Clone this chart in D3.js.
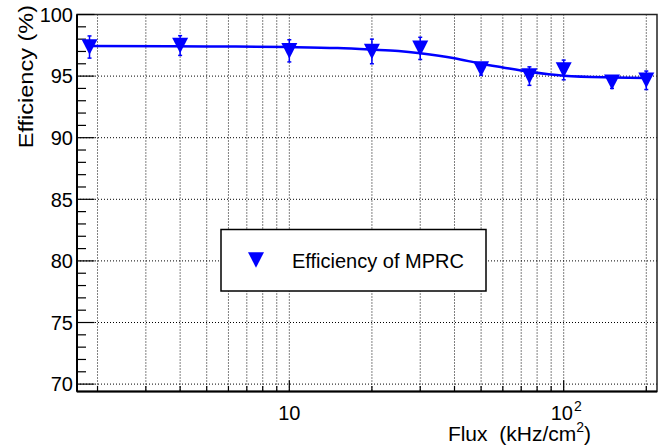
<!DOCTYPE html>
<html>
<head>
<meta charset="utf-8">
<script src="https://cdn.jsdelivr.net/npm/d3@7"></script>
<style>
  html, body { margin: 0; padding: 0; background: #fff; }
  svg { display: block; font-family: "Liberation Sans", Arial, Helvetica, sans-serif; }
  text { white-space: pre; }
</style>
</head>
<body>
<svg id="chart" width="671" height="445"></svg>
<script>
// ---- data ----
const flux = [1.87, 4, 10, 20, 30, 50, 75, 100, 150, 200];
const efficiency = [97.36, 97.48, 97.05, 97.0, 97.25, 95.58, 95.0, 95.5, 94.5, 94.66];
const errors = [0.9, 0.8, 0.9, 1.0, 0.9, 0.5, 0.75, 0.8, 0.5, 0.75];
const fitFlux = [1.87, 5, 10, 15, 20, 25, 30, 40, 50, 60, 75, 100, 150, 200];
const fitEff = [97.44, 97.41, 97.36, 97.28, 97.15, 97.03, 96.85, 96.45, 96.0, 95.7, 95.35, 95.03, 94.89, 94.85];
const yTicks = [70, 75, 80, 85, 90, 95, 100];
const xLabelTicks = [10, 100];
const legendLabel = "Efficiency of MPRC";

// ---- layout ----
const W = 671, H = 445;
const L = 77, R = 657, T = 14.5, B = 391.5;
const svg = d3.select("#chart");
svg.append("rect").attr("width", W).attr("height", H).attr("fill", "#fff");

const x = d3.scaleLog().domain([1.6835, 218.8]).range([L, R]);
const y = d3.scaleLinear().domain([69.4, 100]).range([B, T]);

// grid
const grid = svg.append("g").attr("stroke", "#000").attr("stroke-width", 1).attr("stroke-dasharray", "1,2");
x.ticks().filter(v => v > 1.6835 && v < 218.8).forEach(v => {
  grid.append("line").attr("x1", x(v)).attr("x2", x(v)).attr("y1", T).attr("y2", B);
});
yTicks.forEach(v => {
  grid.append("line").attr("x1", L).attr("x2", R).attr("y1", y(v)).attr("y2", y(v));
});

// frame
svg.append("rect").attr("x", L).attr("y", T).attr("width", R - L).attr("height", B - T)
  .attr("fill", "none").attr("stroke", "#222").attr("stroke-width", 1.5);

// y axis ticks
const ax = svg.append("g").attr("stroke", "#000").attr("stroke-width", 1.2);
d3.range(70, 100.01, 1).forEach(v => {
  const len = (v % 5 === 0) ? 17.5 : 9;
  ax.append("line").attr("x1", L).attr("x2", L + len).attr("y1", y(v)).attr("y2", y(v));
});
// x axis ticks
x.ticks().filter(v => v > 1.6835 && v < 218.8).forEach(v => {
  const major = Math.abs(Math.log10(v) - Math.round(Math.log10(v))) < 1e-9;
  const len = major ? 11.3 : 5.6;
  ax.append("line").attr("x1", x(v)).attr("x2", x(v)).attr("y1", B).attr("y2", B - len);
});
svg.append("line").attr("x1", L).attr("x2", L).attr("y1", T).attr("y2", B).attr("stroke", "#000").attr("stroke-width", 2);
svg.append("line").attr("x1", L).attr("x2", R).attr("y1", B).attr("y2", B).attr("stroke", "#000").attr("stroke-width", 2);

// y tick labels
yTicks.forEach(v => {
  svg.append("text").attr("x", 73).attr("y", y(v)).attr("dy", "0.36em")
    .attr("text-anchor", "end").attr("font-size", 20).text(v);
});
// x tick labels
xLabelTicks.forEach(v => {
  const e = Math.round(Math.log10(v));
  if (e === 1) {
    svg.append("text").attr("x", x(v)).attr("y", 420).attr("text-anchor", "middle")
      .attr("font-size", 20).text("10");
  } else {
    const t = svg.append("text").attr("x", x(v) + 2.5).attr("y", 420).attr("text-anchor", "middle").attr("font-size", 20);
    t.append("tspan").text("10");
    t.append("tspan").attr("font-size", 14).attr("dy", -9).attr("dx", 1).text(e);
  }
});

// axis titles
const xt = svg.append("text").attr("x", 591).attr("y", 441).attr("text-anchor", "end").attr("font-size", 21);
xt.append("tspan").text("Flux  (kHz/cm");
xt.append("tspan").attr("font-size", 14).attr("dy", -9).text("2");
xt.append("tspan").attr("dy", 9).text(")");

svg.append("text").attr("transform", "translate(33,5) rotate(-90) scale(1.12,1)")
  .attr("text-anchor", "end").attr("font-size", 21).text("Efficiency (%)");

// fit curve
const blue = "#0000ff";
const line = d3.line().x(d => x(d[0])).y(d => y(d[1])).curve(d3.curveMonotoneX);
svg.append("path").datum(fitFlux.map((f, i) => [f, fitEff[i]]))
  .attr("d", line).attr("fill", "none").attr("stroke", blue).attr("stroke-width", 2.5);

// error bars
const eb = svg.append("g").attr("stroke", blue).attr("stroke-width", 1.5);
flux.forEach((f, i) => {
  const cx = x(f), y1 = y(efficiency[i] + errors[i]), y2 = y(efficiency[i] - errors[i]);
  eb.append("line").attr("x1", cx).attr("x2", cx).attr("y1", y1).attr("y2", y2);
  eb.append("line").attr("x1", cx - 2).attr("x2", cx + 2).attr("y1", y1).attr("y2", y1);
  eb.append("line").attr("x1", cx - 2).attr("x2", cx + 2).attr("y1", y2).attr("y2", y2);
});

// markers (downward triangle)
function tri(cx, cy) {
  const w = 8, h = 7.8;
  return `M${cx - w},${cy - h}L${cx + w},${cy - h}L${cx},${cy + h}Z`;
}
flux.forEach((f, i) => {
  svg.append("path").attr("d", tri(x(f), y(efficiency[i]))).attr("fill", blue);
});

// legend
svg.append("rect").attr("x", 221).attr("y", 229.5).attr("width", 265).attr("height", 61.5)
  .attr("fill", "#fff").attr("stroke", "#000").attr("stroke-width", 1.5);
svg.append("path").attr("d", tri(256, 260)).attr("fill", blue);
svg.append("text").attr("x", 292).attr("y", 268).attr("font-size", 20).text(legendLabel);
</script>
</body>
</html>
